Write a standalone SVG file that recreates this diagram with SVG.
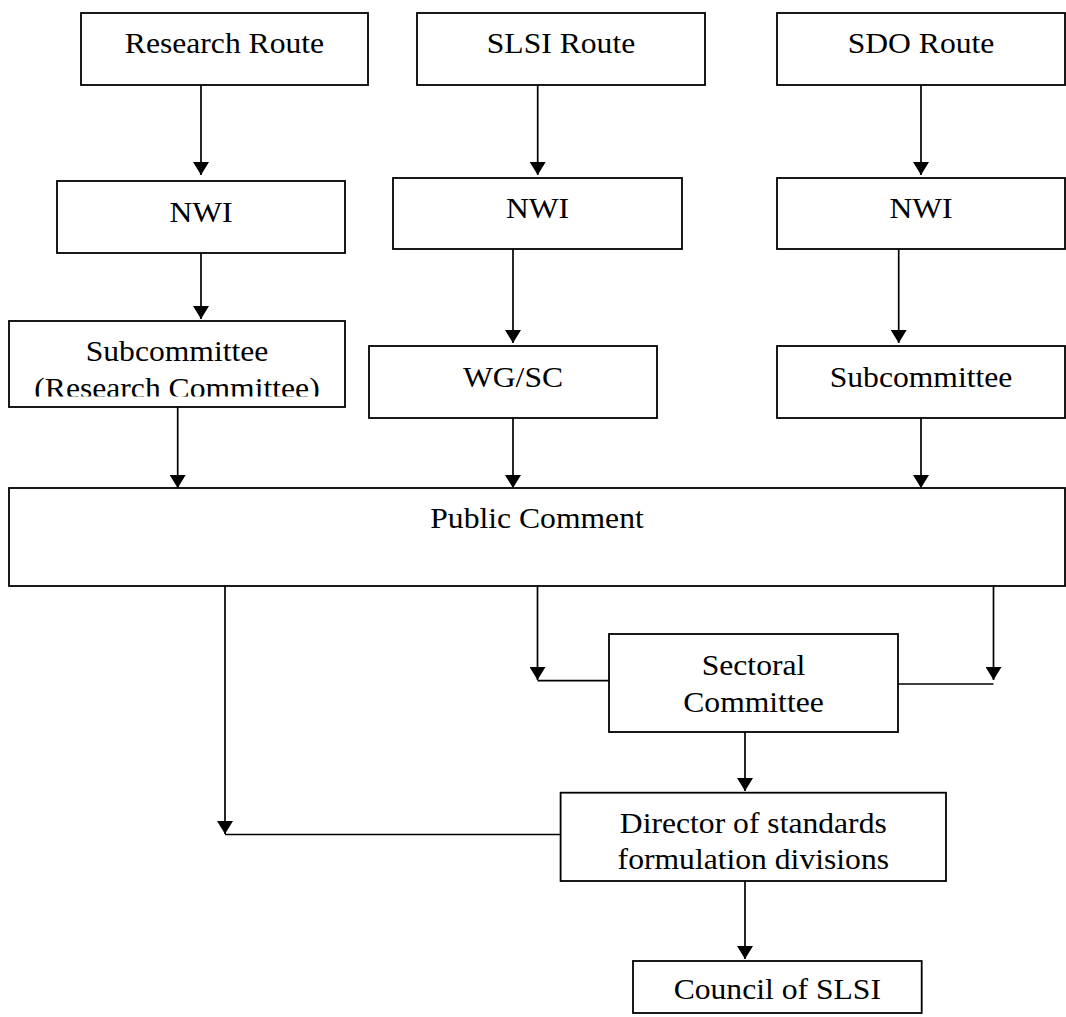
<svg xmlns="http://www.w3.org/2000/svg" width="1066" height="1017" viewBox="0 0 1066 1017">
<style>
.box{fill:#fff;stroke:#000;stroke-width:1.8}
.lbl{font-family:"Liberation Serif","Times New Roman",serif;font-size:28.5px;fill:#000;text-anchor:middle}
.ln{fill:none;stroke:#000;stroke-width:1.7}
.arr{fill:none;stroke:#000;stroke-width:1.7;marker-end:url(#ah)}
</style>
<defs>
<marker id="ah" viewBox="0 0 13 16" refX="13" refY="8" markerWidth="13" markerHeight="16" markerUnits="userSpaceOnUse" orient="auto">
<path d="M0,0 L13,8 L0,16 Z" fill="#000"/>
</marker>
<clipPath id="clipSub1"><rect x="9" y="321" width="336" height="75.5"/></clipPath>
</defs>
<rect x="0" y="0" width="1066" height="1017" fill="#fff"/>

<g id="connectors">
<path class="arr" d="M201,85 V175"/>
<path class="arr" d="M537.7,85 V175"/>
<path class="arr" d="M921,85 V175"/>
<path class="arr" d="M201,253 V319"/>
<path class="arr" d="M513,249 V343"/>
<path class="arr" d="M898.7,249 V343"/>
<path class="arr" d="M177.7,407 V488"/>
<path class="arr" d="M513,418 V488"/>
<path class="arr" d="M921,418 V488"/>
<path class="arr" d="M225,586 V834"/>
<path class="ln" d="M225,834.5 H561"/>
<path class="arr" d="M537.5,586 V680"/>
<path class="ln" d="M537.5,680.7 H609"/>
<path class="arr" d="M993.5,586 V680"/>
<path class="ln" d="M898,684 H993.5"/>
<path class="arr" d="M745,732 V791"/>
<path class="arr" d="M745,881 V959"/>
</g>

<g id="research-route">
<rect class="box" x="81" y="13" width="287" height="72"/>
<text class="lbl" transform="translate(224.5,53) scale(1.11,1)">Research Route</text>
</g>
<g id="slsi-route">
<rect class="box" x="417" y="13" width="288" height="72"/>
<text class="lbl" transform="translate(561,53) scale(1.11,1)">SLSI Route</text>
</g>
<g id="sdo-route">
<rect class="box" x="777" y="13" width="288" height="72"/>
<text class="lbl" transform="translate(921,53) scale(1.11,1)">SDO Route</text>
</g>

<g id="nwi-research">
<rect class="box" x="57" y="181" width="288" height="72"/>
<text class="lbl" transform="translate(201,222) scale(1.11,1)">NWI</text>
</g>
<g id="nwi-slsi">
<rect class="box" x="393" y="178" width="289" height="71"/>
<text class="lbl" transform="translate(537.5,218) scale(1.11,1)">NWI</text>
</g>
<g id="nwi-sdo">
<rect class="box" x="777" y="178" width="288" height="71"/>
<text class="lbl" transform="translate(921,218) scale(1.11,1)">NWI</text>
</g>

<g id="subcommittee-research">
<rect class="box" x="9" y="321" width="336" height="86"/>
<g clip-path="url(#clipSub1)">
<text class="lbl" transform="translate(177,360.5) scale(1.11,1)">Subcommittee</text>
<text class="lbl" transform="translate(177,397.5) scale(1.11,1)">(Research Committee)</text>
</g>
</g>
<g id="wg-sc">
<rect class="box" x="369" y="346" width="288" height="72"/>
<text class="lbl" transform="translate(513,387) scale(1.11,1)">WG/SC</text>
</g>
<g id="subcommittee-sdo">
<rect class="box" x="777" y="346" width="288" height="72"/>
<text class="lbl" transform="translate(921,387) scale(1.11,1)">Subcommittee</text>
</g>

<g id="public-comment">
<rect class="box" x="9" y="488" width="1056" height="98"/>
<text class="lbl" transform="translate(537,528.3) scale(1.11,1)">Public Comment</text>
</g>

<g id="sectoral-committee">
<rect class="box" x="609" y="634" width="289" height="98"/>
<text class="lbl" transform="translate(753.5,675) scale(1.11,1)">Sectoral</text>
<text class="lbl" transform="translate(753.5,712) scale(1.11,1)">Committee</text>
</g>

<g id="director">
<rect class="box" x="560.6" y="792.7" width="385.4" height="88.3"/>
<text class="lbl" transform="translate(753.3,832.7) scale(1.11,1)">Director of standards</text>
<text class="lbl" transform="translate(753.3,869.3) scale(1.11,1)">formulation divisions</text>
</g>

<g id="council">
<rect class="box" x="633" y="961" width="288.7" height="52"/>
<text class="lbl" transform="translate(777.3,999) scale(1.11,1)">Council of SLSI</text>
</g>
</svg>
